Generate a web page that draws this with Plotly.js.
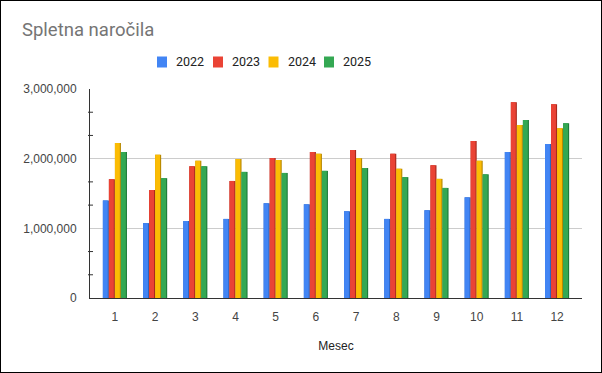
<!DOCTYPE html>
<html><head><meta charset="utf-8">
<script src="https://cdn.plot.ly/plotly-3.0.1.min.js"></script>
<style>html,body{margin:0;padding:0;background:#fff}#c{width:600px;height:371px;border:1px solid #000}</style>
</head><body><div id="c"></div>
<script>
const months = [1,2,3,4,5,6,7,8,9,10,11,12];
const seriesNames = ['2022','2023','2024','2025'];
const v2022 = [1400000,1075000,1105000,1135000,1360000,1345000,1245000,1135000,1260000,1445000,2095000,2210000];
const v2023 = [1705000,1550000,1890000,1680000,2010000,2095000,2125000,2070000,1905000,2255000,2810000,2780000];
const v2024 = [2225000,2055000,1970000,1995000,1980000,2070000,2005000,1855000,1710000,1970000,2485000,2435000];
const v2025 = [2095000,1720000,1890000,1810000,1795000,1825000,1865000,1735000,1580000,1775000,2555000,2510000];
const yTicks = [0,1000000,2000000,3000000];
const minorTicks = [333333,666667,1333333,1666667,2333333,2666667];

const values = [v2022,v2023,v2024,v2025];
const colors = ['#4285F4','#EA4335','#FBBC04','#34A853'];
const sideColors = ['#2d62bd','#a8291e','#b88900','#1f7a3a'];
const offsets = [-0.3,-0.15,0,0.15];

const traces = [];
values.forEach((vals,i)=>{
  traces.push({type:'bar',x:months,y:vals,offset:offsets[i],width:0.15,
    marker:{color:sideColors[i],line:{width:0}},showlegend:false,hoverinfo:'skip'});
  traces.push({type:'bar',x:months,y:vals,offset:offsets[i],width:0.122,name:seriesNames[i],
    marker:{color:colors[i],line:{width:0}},showlegend:false});
});

const W=492, H=209, L=89, T=88;
const px = p => (p-1-L)/W;
const py = p => 1 + (T-(p-1))/H;

const shapes = minorTicks.map(v=>({type:'line',xref:'paper',yref:'y',xsizemode:'pixel',xanchor:0,
  x0:-2,x1:3,y0:v,y1:v,line:{color:'#333',width:1}}));
const annotations = [];
const legCenters = [162,218,273.5,329];
seriesNames.forEach((n,i)=>{
  shapes.push({type:'rect',xref:'paper',yref:'paper',xsizemode:'pixel',ysizemode:'pixel',
    xanchor:px(legCenters[i]),yanchor:py(62),x0:-5,x1:5,y0:-5.5,y1:5.5,
    fillcolor:colors[i],line:{width:0}});
  annotations.push({xref:'paper',yref:'paper',x:px(legCenters[i]+12),y:py(62),xanchor:'left',yanchor:'middle',
    text:n,showarrow:false,font:{family:'Roboto',size:12.5,color:'#222'}});
});

const layout = {
  width:600,height:371,
  margin:{l:L,r:19,t:T,b:74},
  paper_bgcolor:'#fff',plot_bgcolor:'#fff',
  barmode:'overlay',
  title:{text:'Spletna naročila',xref:'container',yref:'container',x:21/600,xanchor:'left',
    y:1-29/371,yanchor:'middle',font:{family:'Roboto',size:18.5,color:'#757575'}},
  xaxis:{range:[0.38,12.62],tickvals:months,ticktext:months.map(String),showgrid:false,zeroline:false,
    showline:true,linecolor:'#333',linewidth:1,ticks:'',ticklabelstandoff:8,
    tickfont:{family:'Liberation Sans, Arial',size:12,color:'#444'},
    title:{text:'Mesec',standoff:18,font:{family:'Liberation Sans, Arial',size:12,color:'#222'}}},
  yaxis:{range:[0,3000000],tickvals:yTicks,tickformat:',d',showgrid:true,gridcolor:'#cccccc',zeroline:false,
    showline:true,linecolor:'#333',linewidth:1,ticks:'',ticklabelstandoff:10,
    tickfont:{family:'Liberation Sans, Arial',size:12,color:'#444'}},
  shapes:shapes,annotations:annotations,showlegend:false
};
Plotly.newPlot('c',traces,layout,{displayModeBar:false,staticPlot:true});
</script></body></html>
